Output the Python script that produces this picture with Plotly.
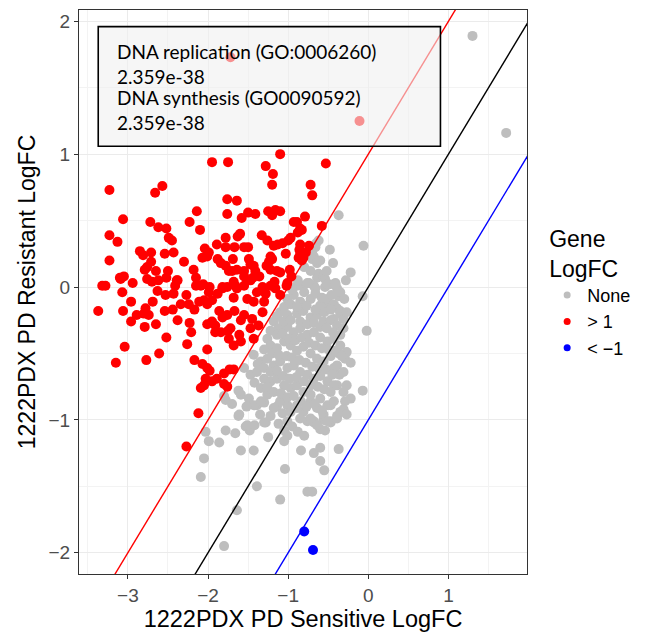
import plotly.graph_objects as go

# ---------------- data ----------------
red_pts = [
(-1.95,0.94),(-1.75,0.94),(-3.23,0.73),(-2.57,0.76),(-2.66,0.71),(-1.76,0.66),(-2.14,0.57),(-1.76,0.55),
(-3.06,0.51),(-2.72,0.49),(-2.23,0.49),(-2.62,0.45),(-2.52,0.44),(-2.10,0.43),(-3.23,0.39),(-3.13,0.34),
(-2.49,0.37),(-2.45,0.35),(-1.78,0.37),(-1.89,0.32),(-2.04,0.29),(-1.99,0.26),(-2.01,0.23),(-2.07,0.22),
(-2.85,0.27),(-2.81,0.24),(-2.71,0.26),(-2.54,0.25),(-2.43,0.26),(-3.23,0.20),(-2.71,0.19),(-2.30,0.19),
(-1.88,0.21),(-1.84,0.18),(-1.78,0.16),(-1.74,0.12),(-2.79,0.13),(-2.76,0.15),(-2.65,0.12),(-2.50,0.12),
(-2.18,0.13),(-2.15,0.07),(-3.10,0.07),(-3.05,0.08),(-2.76,0.06),(-2.70,0.04),(-2.62,0.05),(-2.52,0.07),
(-2.39,0.05),(-2.41,0.01),(-2.94,0.03),(-3.32,0.01),(-3.28,0.01),(-2.06,0.02),(-1.98,0.00),(-1.82,0.00),
(-1.76,0.00),
(-1.10,1.00),(-0.53,0.93),(-1.28,0.91),(-1.19,0.85),(-1.20,0.77),(-0.72,0.77),(-0.70,0.69),(-1.64,0.65),
(-1.50,0.56),(-1.41,0.55),(-1.58,0.52),(-1.25,0.57),(-1.16,0.58),(-1.10,0.57),(-1.20,0.54),(-0.79,0.53),
(-0.93,0.49),(-0.89,0.49),(-0.58,0.46),(-0.85,0.44),(-0.88,0.41),(-1.60,0.40),(-1.63,0.38),(-1.33,0.39),
(-0.97,0.37),(-1.00,0.35),(-1.07,0.33),(-1.13,0.32),(-1.26,0.35),(-1.18,0.31),(-0.85,0.32),(-0.86,0.28),
(-0.74,0.31),(-1.78,0.30),(-1.67,0.30),(-1.55,0.30),(-1.50,0.30),(-1.03,0.25),(-1.22,0.23),(-0.85,0.25),
(-0.81,0.22),(-0.87,0.22),(-1.69,0.21),(-1.49,0.21),(-1.47,0.17),(-1.43,0.16),(-1.24,0.19),(-1.20,0.21),
(-1.70,0.12),(-1.64,0.13),(-1.55,0.12),(-1.55,0.08),(-1.41,0.12),(-1.36,0.08),(-1.44,0.07),(-1.47,0.05),
(-1.27,0.16),(-1.22,0.13),(-1.14,0.12),(-1.10,0.11),(-0.98,0.13),(-0.96,0.08),(-1.17,0.04),(-1.02,0.01),
(-1.68,0.04),(-1.66,0.01),(-1.32,0.00),(-0.83,0.43),(-0.78,0.26),(-0.83,0.20),
(-3.09,0.06),(-3.07,-0.04),(-3.37,-0.18),(-2.96,-0.11),(-3.06,-0.18),(-2.96,-0.26),(-2.63,-0.03),(-2.69,-0.11),
(-2.53,-0.06),(-2.43,-0.05),(-2.38,0.05),(-2.78,-0.16),(-2.74,-0.21),(-2.80,-0.20),(-2.89,-0.21),(-2.79,-0.30),
(-2.65,-0.28),(-2.54,-0.18),(-2.44,-0.17),(-2.38,-0.25),(-2.52,-0.38),(-2.34,-0.13),(-2.27,-0.06),(-2.24,-0.13),
(-2.17,-0.17),(-2.15,0.01),(-2.09,0.01),(-2.11,-0.11),(-2.05,-0.10),(-1.99,-0.04),(-2.01,-0.13),(-1.95,-0.10),
(-1.88,-0.05),(-1.82,-0.01),(-2.23,-0.27),(-2.21,-0.34),(-2.26,-0.43),(-2.01,-0.28),(-1.95,-0.26),(-1.91,-0.29),
(-1.91,-0.34),(-1.86,-0.18),(-1.82,-0.23),(-1.76,-0.21),(-1.75,-0.33),(-1.74,-0.39),(-3.04,-0.45),(-3.15,-0.57),
(-2.77,-0.55),(-2.61,-0.50),(-2.01,-0.47),(-2.17,-0.55),(-2.07,-0.58),(-2.01,-0.61),(-1.98,-0.63),(-1.73,-0.62),
(-2.03,-0.69),(-1.89,-0.69),(-1.95,-0.71),(-2.09,-0.76),(-2.05,-0.74),(-1.80,-0.73),(-1.76,-0.75),(-2.12,-0.95),
(-2.27,-1.20),
(-1.68,-0.62),(-1.80,-0.65),(-1.61,-0.36),(-1.59,-0.41),(-1.68,-0.44),(-1.47,-0.31),(-1.45,-0.24),(-1.43,-0.39),
(-1.37,-0.29),(-1.32,-0.19),(-1.30,-0.11),(-1.55,-0.21),(-1.59,-0.25),(-1.72,-0.31),(-1.84,-0.34),(-1.67,-0.18),
(-1.51,-0.09),(-1.43,-0.11),(-1.39,-0.04),(-1.28,-0.05),(-1.22,0.01),(-1.16,-0.01),(-1.10,-0.06),(-1.01,0.03),
(-1.64,-0.01),(-1.55,0.01),(-1.68,-0.08),
(-1.72,1.73),(-0.11,1.25),
]

grey_pts = [
(1.30,1.89),(1.72,1.16),(-0.37,0.54),(-0.65,0.33),(-0.62,0.35),(-0.70,0.25),(-0.68,0.23),(-0.44,0.18),
(-0.22,0.11),(-0.62,0.10),(-0.64,0.07),(-0.56,0.08),(-0.74,0.03),(-0.68,0.01),(-0.81,0.01),(-0.41,0.03),
(-0.54,0.00),(-0.06,0.31),(-0.66,0.30),(-0.70,0.21),(-0.64,0.18),(-0.54,0.06),(-0.49,0.02),(-0.43,0.02),
(-0.39,-0.01),(-0.37,-0.07),(-0.07,-0.07),(-0.54,-0.13),(-0.39,-0.16),(-0.35,-0.20),(-0.31,-0.24),(-0.43,-0.24),
(-0.02,-0.33),(-0.37,-0.50),(-0.29,-0.54),(-0.22,-0.57),(-0.43,-0.61),(-0.36,-0.66),(-0.27,-0.74),(-0.39,-0.74),
(-0.07,-0.78),(-0.22,-0.84),(-0.29,-0.86),(-0.31,-0.92),(-0.39,-0.97),(-0.47,-1.02),(-0.56,-1.00),(-0.68,-1.01),
(-2.03,-1.09),(-1.99,-1.16),(-1.86,-1.17),(-2.05,-1.29),(-2.09,-1.43),(-1.78,-1.08),(-1.62,-0.97),(-1.78,-0.85),
(-1.53,-1.05),(-1.48,-1.08),(-1.42,-1.04),(-1.28,-1.02),(-1.59,-1.23),(-1.43,-1.23),(-1.25,-1.13),(-1.39,-0.89),
(-1.30,-0.87),(-1.14,-0.90),(-1.07,-0.95),(-1.01,-0.89),(-1.05,-1.08),(-1.01,-1.12),(-1.05,-1.16),(-1.04,-1.37),
(-1.39,-1.50),(-1.10,-1.60),(-1.64,-1.68),(-1.80,-1.95),(-0.84,-1.23),(-0.76,-1.54),(-0.70,-1.54),(-0.68,-1.25),
(-0.60,-1.21),(-0.60,-1.31),(-0.55,-1.38),(-0.54,-1.08),(-0.47,-1.01),(-0.37,-1.22),(-0.31,-0.93),(-1.80,-0.82),
(-0.89,-0.89),(-0.81,-0.94),(-0.72,-0.86),(-0.64,-0.91),(-0.56,-0.96),(-0.47,-0.89),(-0.39,-0.99),(-0.76,-1.01),
(-0.68,-1.02),(-0.60,-1.07),
(-0.89,0.01),(-0.76,0.03),(-0.66,-0.01),(-0.51,0.02),(-0.41,0.02),(-0.35,-0.04),
(-1.01,-0.09),(-0.93,-0.06),(-0.85,-0.11),(-0.72,-0.09),(-0.60,-0.14),(-0.51,-0.09),(-0.43,-0.13),(-0.35,-0.18),(-0.27,-0.19),
(-1.10,-0.19),(-1.01,-0.21),(-0.89,-0.20),(-0.81,-0.18),(-0.72,-0.23),(-0.64,-0.21),(-0.56,-0.26),(-0.47,-0.25),(-0.39,-0.29),(-0.31,-0.31),
(-1.18,-0.26),(-1.12,-0.31),(-1.01,-0.30),(-0.93,-0.34),(-0.85,-0.31),(-0.76,-0.36),(-0.68,-0.34),(-0.60,-0.38),(-0.51,-0.41),(-0.43,-0.39),(-0.35,-0.44),(-0.27,-0.49),
(-1.26,-0.39),(-1.22,-0.44),(-1.14,-0.46),(-1.05,-0.41),(-0.97,-0.44),(-0.89,-0.48),(-0.81,-0.45),(-0.72,-0.50),(-0.64,-0.54),(-0.56,-0.56),(-0.47,-0.52),(-0.39,-0.59),(-0.31,-0.64),
(-1.43,-0.51),(-1.34,-0.56),(-1.26,-0.54),(-1.18,-0.59),(-1.10,-0.56),(-1.01,-0.61),(-0.93,-0.59),(-0.85,-0.64),(-0.76,-0.66),(-0.68,-0.69),(-0.60,-0.67),(-0.51,-0.71),(-0.43,-0.74),(-0.31,-0.79),
(-1.55,-0.61),(-1.47,-0.66),(-1.39,-0.64),(-1.30,-0.69),(-1.22,-0.71),(-1.14,-0.69),(-1.05,-0.74),(-0.97,-0.76),(-0.89,-0.74),(-0.81,-0.79),(-0.72,-0.81),(-0.60,-0.84),(-0.51,-0.89),(-0.43,-0.86),(-0.35,-0.94),(-0.27,-0.96),
(-1.59,-0.81),(-1.49,-0.84),(-1.43,-0.89),(-1.34,-0.86),(-1.26,-0.81),(-1.18,-0.91),(-1.10,-0.86),(-0.97,-0.94),(-0.89,-0.91),(-0.85,-0.99),(-0.72,-0.99),(-0.64,-1.04),(-0.51,-1.01),
(-1.61,-0.96),(-1.51,-1.04),(-1.30,-1.02),(-1.01,-1.01),
(-1.05,-0.15),(-0.97,-0.13),(-0.89,-0.15),(-0.77,-0.14),(-0.66,-0.17),(-0.55,-0.19),(-0.47,-0.17),
(-1.14,-0.22),(-1.06,-0.26),(-0.97,-0.25),(-0.85,-0.26),(-0.76,-0.28),(-0.68,-0.27),(-0.60,-0.30),(-0.52,-0.31),(-0.44,-0.34),(-0.35,-0.36),
(-1.22,-0.33),(-1.14,-0.36),(-1.07,-0.35),(-0.99,-0.39),(-0.91,-0.40),(-0.83,-0.38),(-0.74,-0.42),(-0.66,-0.44),(-0.58,-0.46),(-0.50,-0.47),(-0.41,-0.48),(-0.33,-0.52),
(-1.30,-0.47),(-1.20,-0.50),(-1.12,-0.51),(-1.02,-0.52),(-0.95,-0.53),(-0.86,-0.55),(-0.78,-0.57),(-0.70,-0.60),(-0.62,-0.61),(-0.53,-0.62),(-0.45,-0.66),
(-1.38,-0.58),(-1.30,-0.61),(-1.22,-0.64),(-1.14,-0.63),(-1.06,-0.67),(-0.98,-0.69),(-0.90,-0.68),(-0.80,-0.71),(-0.72,-0.74),(-0.63,-0.75),(-0.55,-0.77),(-0.47,-0.79),
(-1.42,-0.72),(-1.34,-0.76),(-1.26,-0.75),(-1.18,-0.79),(-1.09,-0.80),(-1.01,-0.83),(-0.93,-0.82),(-0.84,-0.86),(-0.77,-0.90),(-0.67,-0.88),(-0.58,-0.93),
(-1.52,-0.90),(-1.35,-0.96),(-1.22,-0.97),(-1.12,-1.03),(-0.95,-1.05),(-0.88,-1.09),(-0.80,-1.12),
(-1.62,-0.78),(-1.70,-0.88),(-1.66,-1.10),
(-0.80,0.15),(-0.72,0.12),(-0.60,0.20),(-0.52,0.12),(-0.48,0.28),(-0.88,0.05),(-0.95,-0.02),(-0.80,-0.04),
(-0.66,-0.05),(-0.58,-0.08),(-0.46,-0.06),(-0.30,-0.09),(-0.28,0.05),
]

blue_pts = [(-0.80,-1.84),(-0.69,-1.98)]

grey_x = [p[0] for p in grey_pts]; grey_y = [p[1] for p in grey_pts]
red_x = [p[0] for p in red_pts]; red_y = [p[1] for p in red_pts]
blue_x = [p[0] for p in blue_pts]; blue_y = [p[1] for p in blue_pts]

legend_labels = ["None", "> 1", "< \u22121"]
legend_colors = ["#BEBEBE", "#FF0000", "#0000FF"]

# reference lines y = x + b
line_intercepts = [1, 0, -1]
line_colors = ["#FF0000", "#000000", "#0000FF"]

box_lines = [("DNA replication (GO:0006260)", "2.359e-38"),
             ("DNA synthesis (GO0090592)", "2.359e-38")]

xr = [-3.61, 1.98]
yr = [-2.16, 2.085]

FONT = "Liberation Sans"

fig = go.Figure()
for xs, ys, c in [(grey_x, grey_y, "#BEBEBE"), (red_x, red_y, "#FF0000"), (blue_x, blue_y, "#0000FF")]:
    fig.add_trace(go.Scatter(x=xs, y=ys, mode="markers", showlegend=False,
                             marker=dict(size=10, color=c, line=dict(width=0)),
                             hoverinfo="skip"))

for b, c in zip(line_intercepts, line_colors):
    lx = [-5, 4]
    fig.add_trace(go.Scatter(x=lx, y=[v + b for v in lx], mode="lines",
                             line=dict(color=c, width=1.4), showlegend=False,
                             hoverinfo="skip"))

for lab, c in zip(legend_labels, legend_colors):
    fig.add_trace(go.Scatter(x=[None], y=[None], mode="markers", name=lab,
                             marker=dict(size=7, color=c)))

# annotation box
fig.add_shape(type="rect", xref="x", yref="y", x0=-3.37, x1=0.90, y0=1.06, y1=1.96,
              fillcolor="rgba(240,240,240,0.6)", line=dict(color="black", width=1.6),
              layer="above")
for (t1, t2), yc in zip(box_lines, [1.68, 1.33]):
    fig.add_annotation(x=-3.16, y=yc, xref="x", yref="y", text=t1 + "<br>" + t2,
                       showarrow=False, xanchor="left", yanchor="middle", align="left",
                       font=dict(family="Lato", size=19, color="black"))

axis_common = dict(showgrid=True, gridcolor="#EBEBEB", gridwidth=1.2,
                   zeroline=False, showline=True, mirror=True, linecolor="#333333",
                   linewidth=1.2, ticks="outside", ticklen=4, tickcolor="#333333",
                   tickfont=dict(family=FONT, size=19, color="#4D4D4D"),
                   minor=dict(showgrid=True, gridcolor="#F3F3F3", gridwidth=0.8, dtick=0.5, tick0=0.5, ticks=""))

fig.update_xaxes(range=xr, tickvals=[-3, -2, -1, 0, 1],
                 title=dict(text="1222PDX PD Sensitive LogFC", standoff=4,
                            font=dict(family=FONT, size=23.5, color="black")),
                 **axis_common)
fig.update_yaxes(range=yr, tickvals=[-2, -1, 0, 1, 2],
                 title=dict(text="1222PDX PD Resistant LogFC", standoff=6,
                            font=dict(family=FONT, size=23, color="black")),
                 **axis_common)

fig.update_layout(
    width=646, height=635,
    margin=dict(l=79, r=119, t=9, b=58),
    plot_bgcolor="white", paper_bgcolor="white",
    legend=dict(x=1.045, y=0.633, xanchor="left", yanchor="top",
                title=dict(text="Gene<br>LogFC", font=dict(family=FONT, size=23, color="black")),
                font=dict(family=FONT, size=18, color="black"),
                itemwidth=30, tracegroupgap=0, bgcolor="rgba(0,0,0,0)"),
)

fig.write_html("out.html")
